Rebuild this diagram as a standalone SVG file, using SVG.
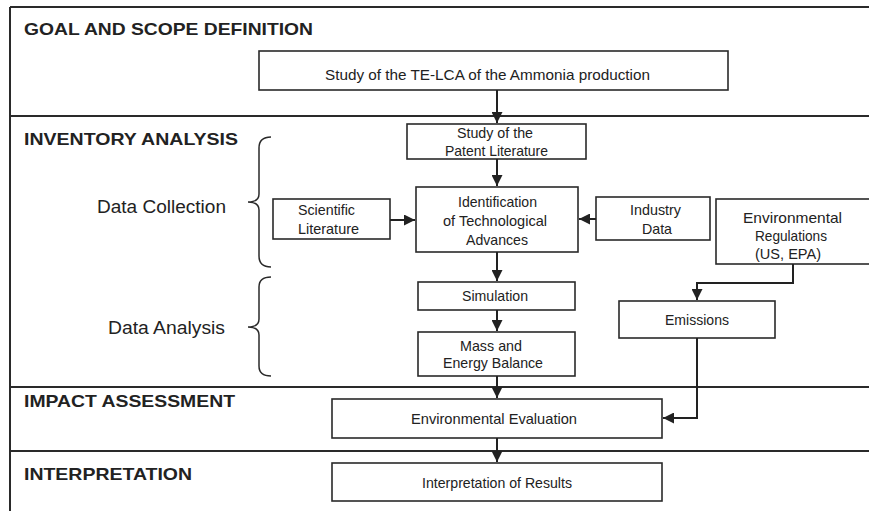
<svg xmlns="http://www.w3.org/2000/svg" width="869" height="511" viewBox="0 0 869 511">
<style>
.frame{stroke:#2a2a2a;stroke-width:2;fill:none}
.box{fill:#fff;stroke:#2a2a2a;stroke-width:1.6}
.conn{fill:none;stroke:#222;stroke-width:2}
.brace{fill:none;stroke:#2a2a2a;stroke-width:1.5}
.h{font-family:"Liberation Sans",Arial,sans-serif;font-weight:bold;font-size:16.5px;fill:#222}
.lab{font-family:"Liberation Sans",Arial,sans-serif;font-size:17.5px;fill:#222}
.t{font-family:"Liberation Sans",Arial,sans-serif;font-size:14.5px;fill:#222}
</style>
<defs>
<marker id="ah" markerUnits="userSpaceOnUse" markerWidth="11" markerHeight="11" viewBox="0 0 10 10" refX="10" refY="5" orient="auto">
<path d="M0,0 L10,5 L0,10 z" fill="#222"/>
</marker>
</defs>
<rect width="869" height="511" fill="#fff"/>
<g id="frame">
<path class="frame" d="M10,7 H869 M10,116 H869 M10,387 H869 M10,451 H869 M10,7 V511"/>
</g>
<g id="headers">
<text class="h" x="24" y="35" textLength="289" lengthAdjust="spacingAndGlyphs">GOAL AND SCOPE DEFINITION</text>
<text class="h" x="24" y="145" textLength="214" lengthAdjust="spacingAndGlyphs">INVENTORY ANALYSIS</text>
<text class="h" x="24" y="407" textLength="211" lengthAdjust="spacingAndGlyphs">IMPACT ASSESSMENT</text>
<text class="h" x="24" y="480" textLength="168" lengthAdjust="spacingAndGlyphs">INTERPRETATION</text>
</g>
<g id="data-collection">
<text class="lab" x="97" y="213" textLength="129" lengthAdjust="spacingAndGlyphs">Data Collection</text>
<path class="brace" d="M271,137 C264,137 259,140 259,148 V194 C259,199 255,202 248,202 C255,202 259,205 259,210 V256 C259,264 264,267 271,267"/>
</g>
<g id="data-analysis">
<text class="lab" x="108" y="334" textLength="117" lengthAdjust="spacingAndGlyphs">Data Analysis</text>
<path class="brace" d="M271,277 C264,277 259,280 259,287 V319 C259,324 255,327 248,327 C255,327 259,330 259,335 V366 C259,373 264,376 271,376"/>
</g>
<g id="study-telca">
<rect class="box" x="259" y="51" width="469" height="39"/>
<text class="t" x="325" y="80" textLength="325" lengthAdjust="spacingAndGlyphs">Study of the TE-LCA of the Ammonia production</text>
</g>
<g id="patent">
<rect class="box" x="407" y="124" width="179" height="35"/>
<text class="t" x="457" y="138" textLength="76" lengthAdjust="spacingAndGlyphs">Study of the</text>
<text class="t" x="445" y="156" textLength="103" lengthAdjust="spacingAndGlyphs">Patent Literature</text>
</g>
<g id="identification">
<rect class="box" x="416" y="187" width="162" height="65"/>
<text class="t" x="458" y="207" textLength="79" lengthAdjust="spacingAndGlyphs">Identification</text>
<text class="t" x="443" y="226" textLength="104" lengthAdjust="spacingAndGlyphs">of Technological</text>
<text class="t" x="466" y="245" textLength="62" lengthAdjust="spacingAndGlyphs">Advances</text>
</g>
<g id="scientific">
<rect class="box" x="273" y="199" width="117" height="40"/>
<text class="t" x="298" y="215" textLength="57" lengthAdjust="spacingAndGlyphs">Scientific</text>
<text class="t" x="298" y="234" textLength="61" lengthAdjust="spacingAndGlyphs">Literature</text>
</g>
<g id="industry">
<rect class="box" x="596" y="197" width="114" height="43"/>
<text class="t" x="630" y="215" textLength="51" lengthAdjust="spacingAndGlyphs">Industry</text>
<text class="t" x="642" y="234" textLength="30" lengthAdjust="spacingAndGlyphs">Data</text>
</g>
<g id="env-regulations">
<rect class="box" x="716" y="199" width="160" height="65"/>
<text class="t" x="743" y="223" textLength="99" lengthAdjust="spacingAndGlyphs">Environmental</text>
<text class="t" x="755" y="241" textLength="72" lengthAdjust="spacingAndGlyphs">Regulations</text>
<text class="t" x="755" y="259" textLength="66" lengthAdjust="spacingAndGlyphs">(US, EPA)</text>
</g>
<g id="simulation">
<rect class="box" x="418" y="282" width="157" height="28"/>
<text class="t" x="462" y="301" textLength="66" lengthAdjust="spacingAndGlyphs">Simulation</text>
</g>
<g id="mass-energy">
<rect class="box" x="418" y="332" width="157" height="44"/>
<text class="t" x="460" y="351" textLength="62" lengthAdjust="spacingAndGlyphs">Mass and</text>
<text class="t" x="443" y="368" textLength="100" lengthAdjust="spacingAndGlyphs">Energy Balance</text>
</g>
<g id="emissions">
<rect class="box" x="619" y="301" width="156" height="37"/>
<text class="t" x="665" y="325" textLength="64" lengthAdjust="spacingAndGlyphs">Emissions</text>
</g>
<g id="env-evaluation">
<rect class="box" x="332" y="399" width="330" height="39"/>
<text class="t" x="411" y="424" textLength="166" lengthAdjust="spacingAndGlyphs">Environmental Evaluation</text>
</g>
<g id="interpretation">
<rect class="box" x="332" y="463" width="330" height="38"/>
<text class="t" x="422" y="488" textLength="150" lengthAdjust="spacingAndGlyphs">Interpretation of Results</text>
</g>
<g id="connectors">
<path class="conn" d="M497,90 V123" marker-end="url(#ah)"/>
<path class="conn" d="M497,159 V186" marker-end="url(#ah)"/>
<path class="conn" d="M390,220 H415" marker-end="url(#ah)"/>
<path class="conn" d="M596,219 H579" marker-end="url(#ah)"/>
<path class="conn" d="M497,252 V281" marker-end="url(#ah)"/>
<path class="conn" d="M497,310 V331" marker-end="url(#ah)"/>
<path class="conn" d="M497,376 V398" marker-end="url(#ah)"/>
<path class="conn" d="M497,438 V462" marker-end="url(#ah)"/>
<path class="conn" d="M793,264 V283 H697 V300" marker-end="url(#ah)"/>
<path class="conn" d="M697,338 V418 H663" marker-end="url(#ah)"/>
</g>
</svg>
